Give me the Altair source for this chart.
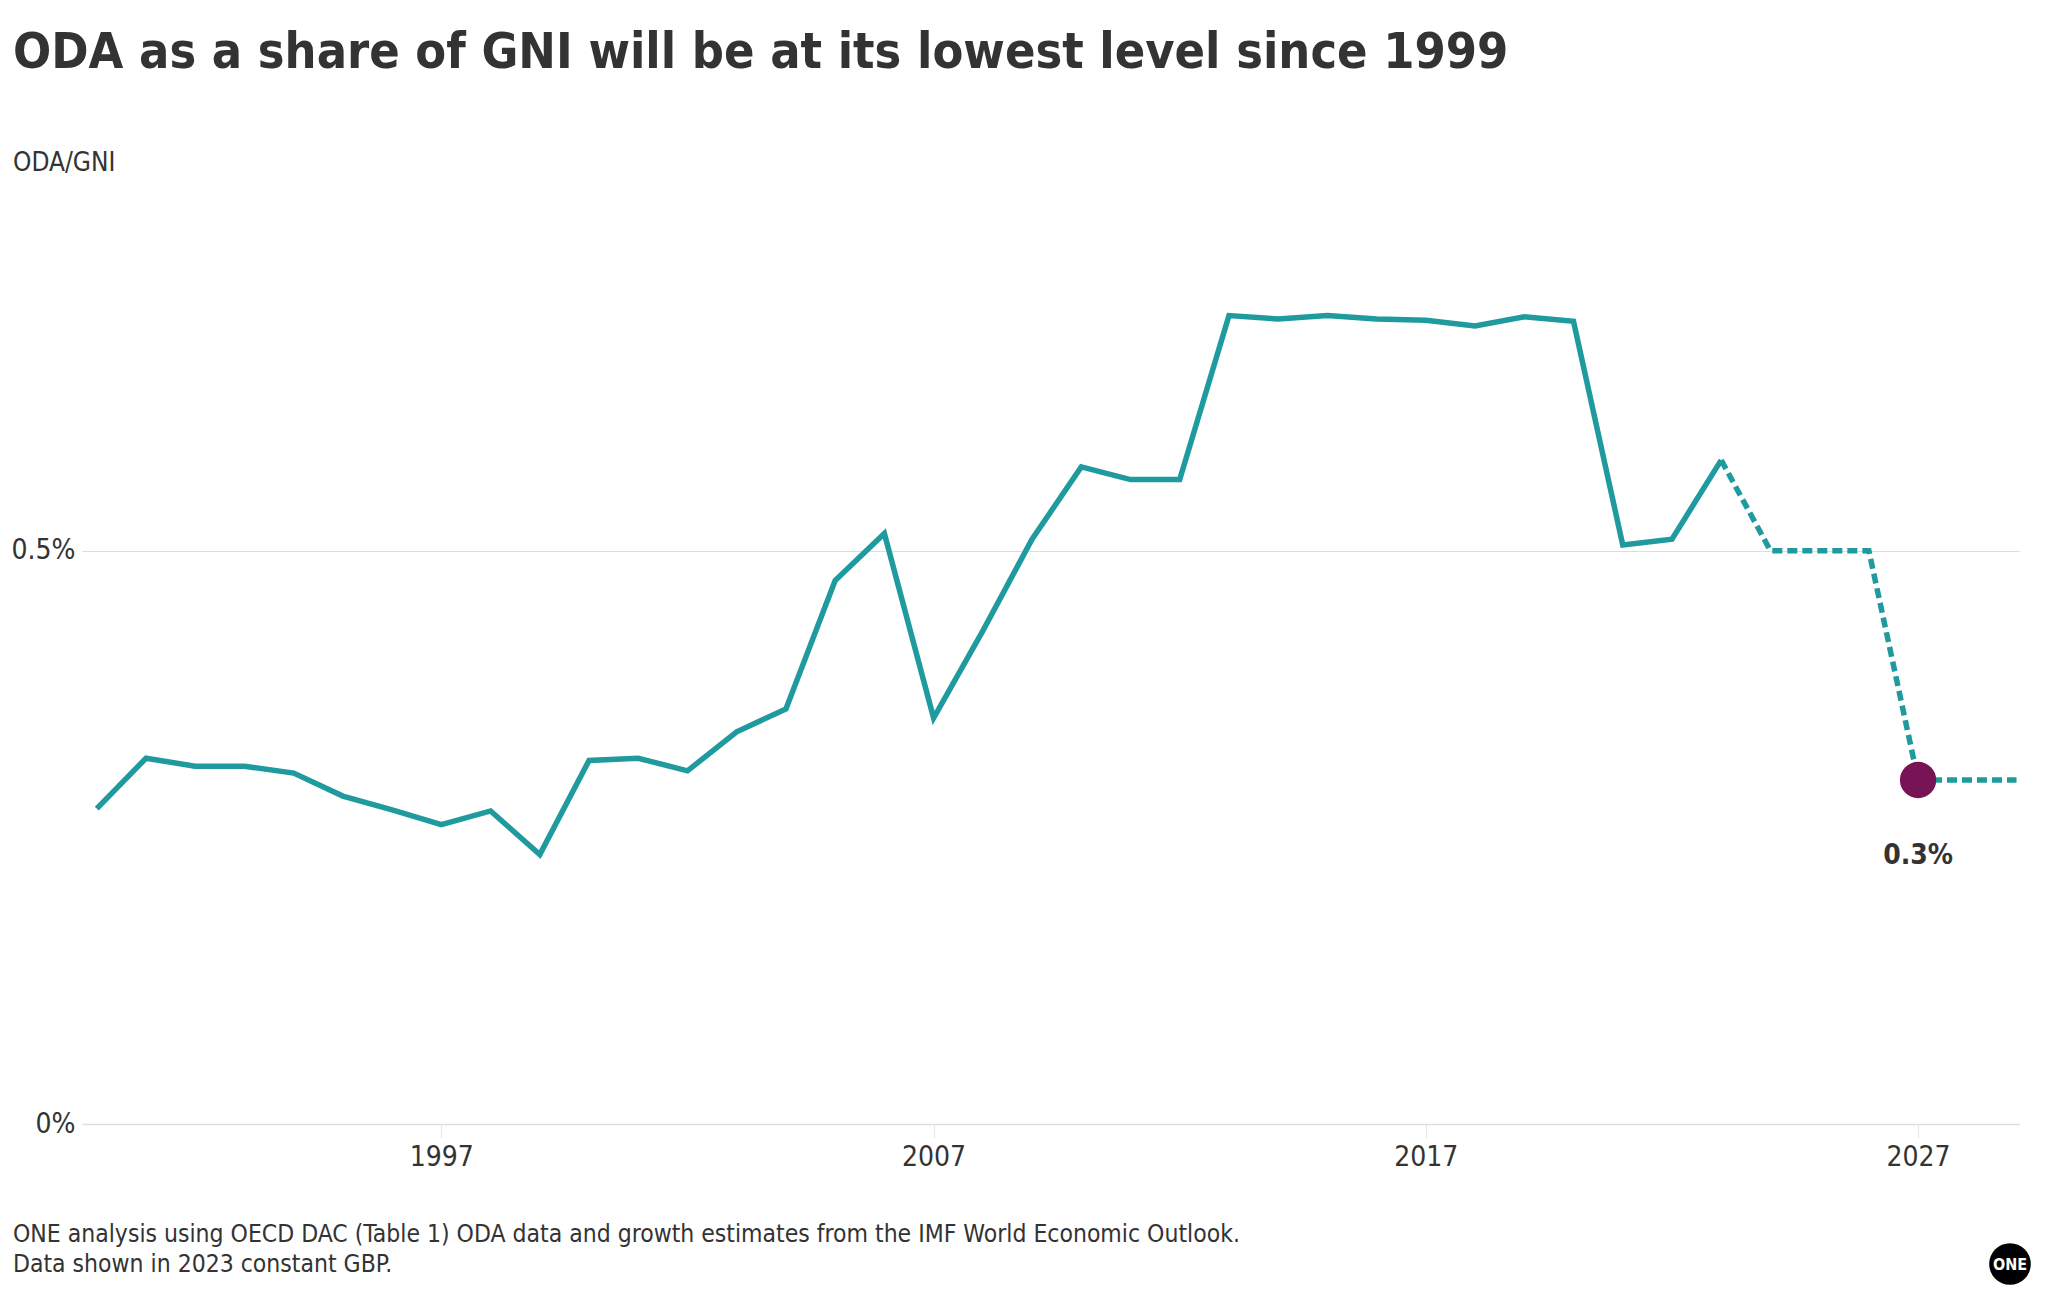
import altair as alt
import pandas as pd

years = list(range(1990, 2030))
oda_gni = [0.275, 0.319, 0.312, 0.312, 0.306, 0.286, 0.274, 0.261, 0.273, 0.235,
           0.317, 0.319, 0.308, 0.342, 0.362, 0.474, 0.515, 0.354, 0.430, 0.510,
           0.573, 0.562, 0.562, 0.705, 0.702, 0.705, 0.702, 0.701, 0.696, 0.704,
           0.700, 0.505, 0.510, 0.579, 0.500, 0.500, 0.500, 0.300, 0.300, 0.300]
last_actual_year = 2023
highlight_year = 2027
highlight_label = "0.3%"

title_text = "ODA as a share of GNI will be at its lowest level since 1999"
subtitle_text = "ODA/GNI"
footer_lines = ["ONE analysis using OECD DAC (Table 1) ODA data and growth estimates from the IMF World Economic Outlook.",
                "Data shown in 2023 constant GBP."]

TEAL = "#1f9a9e"
PURPLE = "#781456"
TXT = "#333333"
FONT = "DejaVu Sans Condensed, sans-serif"

df = pd.DataFrame({"year": years, "value": oda_gni})
actual = df[df.year <= last_actual_year]
proj = df[df.year >= last_actual_year]
hl = df[df.year == highlight_year].assign(label=highlight_label)

W, H = 1937, 860
xs = alt.Scale(domain=[1989.7, 2029.05], nice=False, zero=False)
ys = alt.Scale(domain=[0, 0.75], nice=False)

xenc = alt.X("year:Q", scale=xs, title=None,
             axis=alt.Axis(values=[1997, 2007, 2017, 2027], format="d", grid=False,
                           domain=True, domainColor="#dddddd", domainWidth=1.5,
                           ticks=True, tickColor="#e6e6e6", tickSize=14, tickWidth=1,
                           labelFont=FONT, labelFontSize=28, labelColor=TXT, labelPadding=5))
yenc = alt.Y("value:Q", scale=ys, title=None,
             axis=alt.Axis(values=[0, 0.5], labelExpr="datum.value + '%'", grid=True,
                           gridColor="#dddddd", gridWidth=1.2, domain=False, ticks=False,
                           labelFont=FONT, labelFontSize=28, labelColor=TXT, labelPadding=7,
                           labelBaseline="middle"))

solid = alt.Chart(actual).mark_line(color=TEAL, strokeWidth=5.5, strokeJoin="miter").encode(x=xenc, y=yenc)
dashed = alt.Chart(proj).mark_line(color=TEAL, strokeWidth=5.5, strokeDash=[10, 5]).encode(x="year:Q", y="value:Q")
dot = alt.Chart(hl).mark_point(filled=True, color=PURPLE, opacity=1, size=1320).encode(x="year:Q", y="value:Q")
lab = alt.Chart(hl).mark_text(font=FONT, fontSize=28, fontWeight="bold", color=TXT, dy=76,
                              align="center", baseline="middle").encode(x="year:Q", y="value:Q", text="label:N")

footer = alt.Chart(alt.Data(values=[{}])).mark_text(
    text=footer_lines, font=FONT, fontSize=24.5, color=TXT, align="left", baseline="top",
    lineHeight=30).encode(x=alt.value(-69), y=alt.value(959))
logo_c = alt.Chart(alt.Data(values=[{}])).mark_point(filled=True, color="#000000", opacity=1, size=1735).encode(
    x=alt.value(1928), y=alt.value(1000))
logo_t = alt.Chart(alt.Data(values=[{}])).mark_text(
    text="ONE", font=FONT, fontSize=16, fontWeight="bold", color="#ffffff", align="center",
    baseline="middle").encode(x=alt.value(1928), y=alt.value(1001))

chart = alt.layer(solid, dashed, dot, lab, footer, logo_c, logo_t).properties(
    width=W, height=H,
    background="#ffffff",
    title=alt.TitleParams(text=title_text, subtitle=subtitle_text, anchor="start", frame="group",
                          dx=-69, offset=88, font=FONT, fontSize=50, fontWeight="bold", color=TXT,
                          subtitleFont=FONT, subtitleFontSize=26, subtitleColor=TXT,
                          subtitlePadding=72),
    autosize=alt.AutoSizeParams(type="none"),
    padding={"left": 82, "top": 264, "right": 43, "bottom": 186},
).configure_view(strokeWidth=0, stroke="transparent")

chart.save("out.html", embed_options={"renderer": "svg", "actions": False})
